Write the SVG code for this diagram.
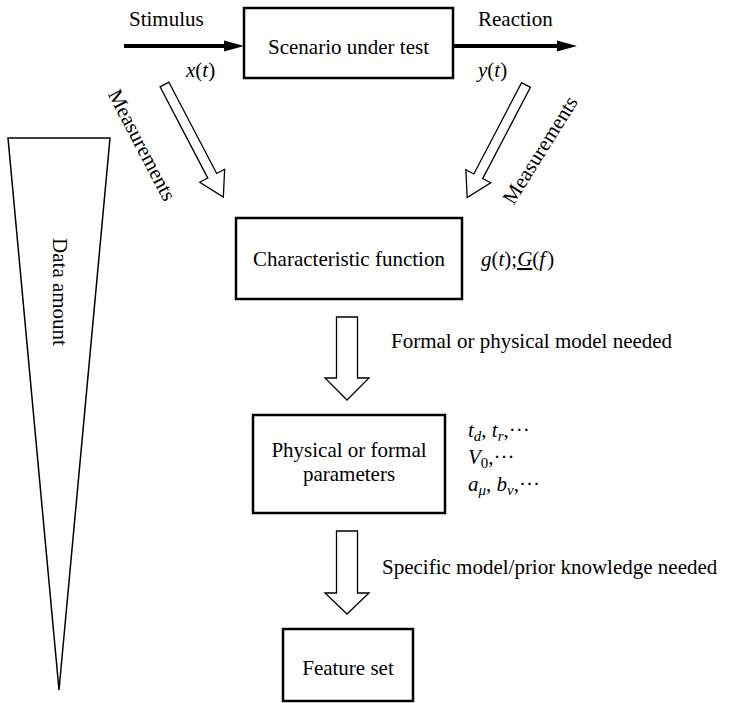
<svg xmlns="http://www.w3.org/2000/svg" width="733" height="703" viewBox="0 0 733 703">
<style>
text{font-family:"Liberation Serif","Times New Roman",serif;font-size:21px;fill:#000}
.it{font-style:italic}
.box{fill:#fff;stroke:#000;stroke-width:2.5}
.hollow{fill:#fff;stroke:#000;stroke-width:1.3;stroke-linejoin:miter}
.thick{stroke:#000;stroke-width:4;fill:none}
.mid{text-anchor:middle}
</style>
<defs>
<marker id="ah" markerUnits="userSpaceOnUse" markerWidth="20" markerHeight="12" refX="0" refY="6" orient="auto">
<path d="M0,0.5 L20,6 L0,11.5 z" fill="#000"/>
</marker>
</defs>
<rect width="733" height="703" fill="#fff"/>

<g id="data-amount">
<polygon points="8,138 110,138 59,690" fill="#fff" stroke="#000" stroke-width="1.5" stroke-linejoin="miter"/>
<text class="mid" transform="translate(60,292) rotate(90)" y="7">Data amount</text>
</g>

<g id="connectors">
<line class="thick" x1="124" y1="46" x2="224" y2="46" marker-end="url(#ah)"/>
<line class="thick" x1="453" y1="46" x2="557" y2="46" marker-end="url(#ah)"/>
<path class="hollow" transform="translate(164.5,84.5) rotate(62.4)" d="M0,-5 L103,-5 L103,-14 L127,0 L103,14 L103,5 L0,5 Z"/>
<path class="hollow" transform="translate(526,85) rotate(117.6)" d="M0,-5 L103,-5 L103,-14 L127,0 L103,14 L103,5 L0,5 Z"/>
<path class="hollow" d="M336.5,317 L357.5,317 L357.5,378 L369,378 L347,400 L325,378 L336.5,378 Z"/>
<path class="hollow" d="M336.5,531 L357.5,531 L357.5,593 L369,593 L347,614 L325,593 L336.5,593 Z"/>
<text x="129" y="26">Stimulus</text>
<text x="478" y="26">Reaction</text>
<text class="it" x="186" y="77">x<tspan font-style="normal">(</tspan>t<tspan font-style="normal">)</tspan></text>
<text class="it" x="478" y="77">y<tspan font-style="normal">(</tspan>t<tspan font-style="normal">)</tspan></text>
<text class="mid" transform="translate(142,145) rotate(62.4)" y="7">Measurements</text>
<text class="mid" transform="translate(540,150) rotate(-58)" y="7">Measurements</text>
<text x="391" y="348">Formal or physical model needed</text>
<text x="382" y="574">Specific model/prior knowledge needed</text>
</g>

<g id="scenario">
<rect class="box" x="244" y="8" width="209" height="70" stroke-width="2"/>
<text class="mid" x="348.5" y="54">Scenario under test</text>
</g>

<g id="characteristic">
<rect class="box" x="236" y="218" width="226" height="81"/>
<text class="mid" x="349" y="266">Characteristic function</text>
<text class="it" x="481" y="266">g<tspan font-style="normal">(</tspan>t<tspan font-style="normal">);</tspan><tspan text-decoration="underline">G</tspan><tspan font-style="normal">(</tspan>f<tspan font-style="normal" dx="2">)</tspan></text>
</g>

<g id="parameters">
<rect class="box" x="253" y="415" width="192" height="98"/>
<text class="mid" x="349" y="457">Physical or formal</text>
<text class="mid" x="349" y="481">parameters</text>
<text x="468" y="437"><tspan class="it">t</tspan><tspan class="it" font-size="15" dy="4">d</tspan><tspan dy="-4">, </tspan><tspan class="it">t</tspan><tspan class="it" font-size="15" dy="4">r</tspan><tspan dy="-4">,···</tspan></text>
<text x="468" y="464"><tspan class="it">V</tspan><tspan font-size="15" dy="4">0</tspan><tspan dy="-4">,···</tspan></text>
<text x="468" y="491"><tspan class="it">a</tspan><tspan class="it" font-size="15" dy="4">μ</tspan><tspan dy="-4">, </tspan><tspan class="it">b</tspan><tspan class="it" font-size="15" dy="4">ν</tspan><tspan dy="-4">,···</tspan></text>
</g>

<g id="feature-set">
<rect class="box" x="283" y="629" width="130" height="72"/>
<text class="mid" x="348" y="675">Feature set</text>
</g>
</svg>
